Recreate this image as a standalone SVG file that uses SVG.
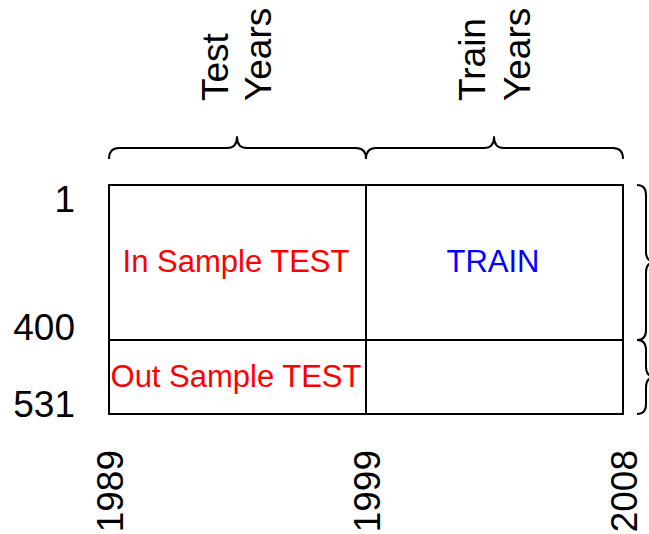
<svg xmlns="http://www.w3.org/2000/svg" width="649" height="534" viewBox="0 0 649 534">
  <style>
    .lbl { font-family: "Liberation Sans", Arial, sans-serif; font-size: 37px; fill: #000; }
    .cell-text { font-family: "Liberation Sans", Arial, sans-serif; font-size: 31px; text-anchor: middle; }
    .test { fill: #ff0000; }
    .train { fill: #0000ff; }
    .frame { fill: none; stroke: #000; stroke-width: 2; }
    .brace { fill: none; stroke: #000; stroke-width: 2; stroke-linejoin: round; }
  </style>
  <rect width="649" height="534" fill="#fff"/>

  <!-- grid of sample/year blocks -->
  <g id="in-sample-test">
    <rect class="frame" x="109" y="185" width="257" height="155"/>
    <text class="cell-text test" x="236" y="272">In Sample TEST</text>
  </g>
  <g id="train">
    <rect class="frame" x="366" y="185" width="257" height="155"/>
    <text class="cell-text train" x="493" y="272">TRAIN</text>
  </g>
  <g id="out-sample-test">
    <rect class="frame" x="109" y="340" width="257" height="74"/>
    <text class="cell-text test" x="236" y="387">Out Sample TEST</text>
  </g>
  <g id="out-sample-train">
    <rect class="frame" x="366" y="340" width="257" height="74"/>
  </g>

  <!-- curly braces over year spans and beside row spans -->
  <g id="braces">
    <path class="brace" d="M109,159 Q109,148 119,148 L227,148 Q237,148 237,137 Q237,148 247,148 L356,148 Q366,148 366,159"/>
    <path class="brace" d="M366,159 Q366,148 376,148 L484,148 Q494,148 494,137 Q494,148 504,148 L613,148 Q623,148 623,159"/>
    <path class="brace" d="M637,185 Q646,185 646,195 L646,252 Q646,262 656,262 Q646,262 646,272 L646,330 Q646,340 637,340"/>
    <path class="brace" d="M637,340 Q646,340 646,350 L646,367 Q646,377 656,377 Q646,377 646,387 L646,404 Q646,414 637,414"/>
  </g>

  <!-- span titles -->
  <g id="test-years">
    <text class="lbl" transform="translate(228,101) rotate(-90)">Test</text>
    <text class="lbl" transform="translate(271,101) rotate(-90)">Years</text>
  </g>
  <g id="train-years">
    <text class="lbl" transform="translate(485,101) rotate(-90)">Train</text>
    <text class="lbl" transform="translate(530,101) rotate(-90)">Years</text>
  </g>

  <!-- row indices -->
  <g id="row-axis" text-anchor="end">
    <text class="lbl" x="75" y="212">1</text>
    <text class="lbl" x="75" y="340">400</text>
    <text class="lbl" x="75" y="417">531</text>
  </g>

  <!-- year ticks -->
  <g id="year-axis" text-anchor="end">
    <text class="lbl" transform="translate(123,450) rotate(-90)">1989</text>
    <text class="lbl" transform="translate(380,450) rotate(-90)">1999</text>
    <text class="lbl" transform="translate(637,450) rotate(-90)">2008</text>
  </g>
</svg>
